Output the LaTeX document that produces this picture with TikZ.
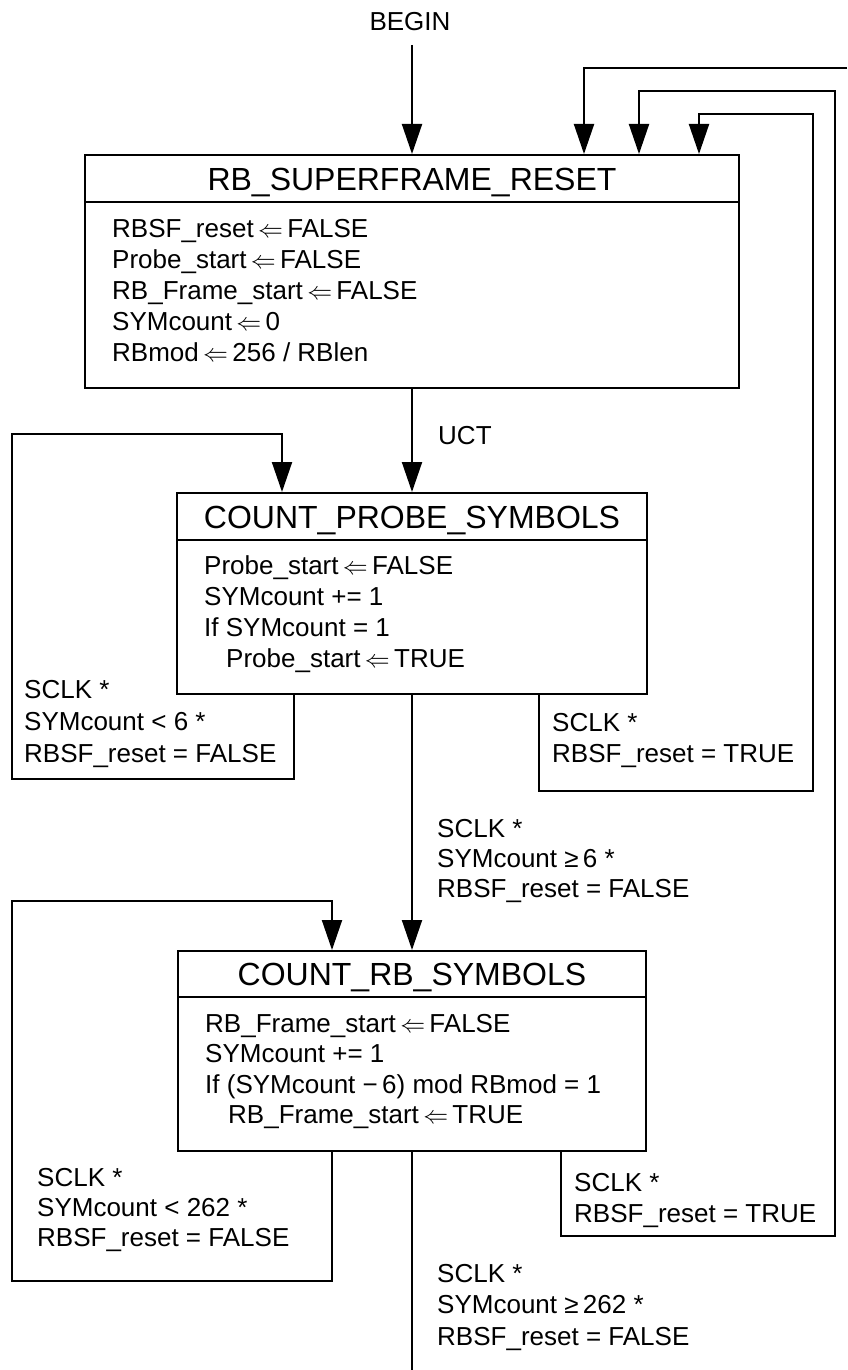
\documentclass[tikz,border=0pt]{standalone}
\usepackage{fontspec}
\setmainfont{Liberation Sans}
\usetikzlibrary{arrows.meta}
\newcommand\lfarr{\,$\Leftarrow$\,}
\begin{document}
\begin{tikzpicture}[x=1pt,y=-1pt,
  wire/.style={line width=2pt, line join=miter},
  arr/.style={wire, -{Triangle[length=30pt,width=20pt]}},
  statebox/.style={draw, line width=2pt, inner sep=0pt, minimum width=#1},
  ttl/.style={inner sep=0pt, anchor=base, font=\fontsize{32}{38}\selectfont},
  txt/.style={inner sep=0pt, anchor=base west, font=\fontsize{26}{31}\selectfont}]
\fill[white] (0,0) rectangle (847,1370);
\useasboundingbox (0,0) rectangle (847,1370);

% state boxes
\node[statebox=654pt, minimum height=233pt] (s1) at (412,271.5) {};
\node[statebox=470pt, minimum height=201pt] (s2) at (412,593.5) {};
\node[statebox=468pt, minimum height=200pt] (s3) at (412,1051) {};
\draw[wire] (s1.west |- 0,202) -- (s1.east |- 0,202);
\draw[wire] (s2.west |- 0,540) -- (s2.east |- 0,540);
\draw[wire] (s3.west |- 0,997) -- (s3.east |- 0,997);

% titles
\node[ttl] (t1) at (412,190.5) {RB\_SUPERFRAME\_RESET};
\node[ttl] (t2) at (412,528.5) {COUNT\_PROBE\_SYMBOLS};
\node[ttl] (t3) at (412,985) {COUNT\_RB\_SYMBOLS};

% bodies
\node[txt] (b11) at (112,237) {RBSF\_reset\lfarr FALSE};
\node[txt] (b12) at (112,268) {Probe\_start\lfarr FALSE};
\node[txt] (b13) at (112,299) {RB\_Frame\_start\lfarr FALSE};
\node[txt] (b14) at (112,330) {SYMcount\lfarr 0};
\node[txt] (b15) at (112,361) {RBmod\lfarr 256 / RBlen};

\node[txt] (b21) at (204,574) {Probe\_start\lfarr FALSE};
\node[txt] (b22) at (204,605) {SYMcount += 1};
\node[txt] (b23) at (204,636) {If SYMcount = 1};
\node[txt] (b24) at (226,667) {Probe\_start\lfarr TRUE};

\node[txt] (b31) at (205,1032) {RB\_Frame\_start\lfarr FALSE};
\node[txt] (b32) at (205,1062.5) {SYMcount += 1};
\node[txt] (b33) at (205,1093) {If (SYMcount −\,6) mod RBmod = 1};
\node[txt] (b34) at (228,1123) {RB\_Frame\_start\lfarr TRUE};

% labels
\node[txt, anchor=base] (beg) at (410,31) {BEGIN};
\node[txt] (uct) at (438,444) {UCT};

\node[txt] (l21) at (24,698) {SCLK *};
\node[txt] (l22) at (24,730) {SYMcount < 6 *};
\node[txt] (l23) at (24,762) {RBSF\_reset = FALSE};

\node[txt] (r21) at (552,731) {SCLK *};
\node[txt] (r22) at (552,762) {RBSF\_reset = TRUE};

\node[txt] (m21) at (437,837) {SCLK *};
\node[txt] (m22) at (437,867) {SYMcount ≥\,6 *};
\node[txt] (m23) at (437,897) {RBSF\_reset = FALSE};

\node[txt] (l31) at (37,1186) {SCLK *};
\node[txt] (l32) at (37,1216) {SYMcount < 262 *};
\node[txt] (l33) at (37,1246) {RBSF\_reset = FALSE};

\node[txt] (r31) at (574,1191) {SCLK *};
\node[txt] (r32) at (574,1222) {RBSF\_reset = TRUE};

\node[txt] (m31) at (437,1282) {SCLK *};
\node[txt] (m32) at (437,1313) {SYMcount ≥\,262 *};
\node[txt] (m33) at (437,1345) {RBSF\_reset = FALSE};

% free ends
\coordinate (bstart) at (412,45);
\coordinate (offright) at (847,68);
\coordinate (offbottom) at (412,1372);

% connectors
\draw[arr] (bstart) -- (s1.north);
\draw[arr] (s1.south) -- (s2.north);
\draw[arr] (s2.south) -- (s3.north);
\draw[wire] (s3.south) -- (offbottom);

\draw[arr] (offright) -| ([xshift=172pt]s1.north);
\draw[arr] ([xshift=127pt]s2.south) -- ++(0,96) -| (813,114) -| ([xshift=287pt]s1.north);
\draw[arr] ([xshift=149pt]s3.south) -- ++(0,84) -| (835,91) -| ([xshift=227pt]s1.north);

\draw[arr] ([xshift=-118pt]s2.south) -- ++(0,84) -| (12,434) -| ([xshift=-130pt]s2.north);
\draw[arr] ([xshift=-80pt]s3.south) -- ++(0,129) -| (12,901) -| ([xshift=-80pt]s3.north);
\end{tikzpicture}
\end{document}
